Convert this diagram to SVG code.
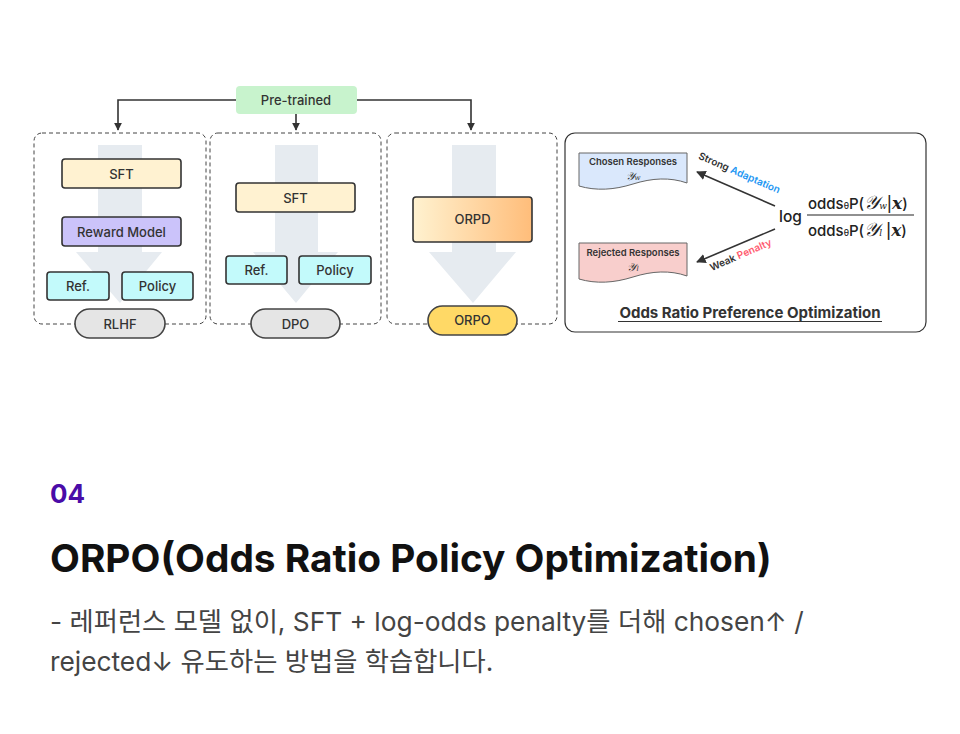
<svg xmlns="http://www.w3.org/2000/svg" width="960" height="734" viewBox="0 0 960 734">
<defs>
<style>
text{font-family:Inter,"Noto Sans","Noto Sans CJK KR",sans-serif;}
.lbl{font-size:13px;font-weight:500;fill:#333;text-anchor:middle;}
.box{stroke:#333;stroke-width:1.6;}
.dash{fill:none;stroke:#444;stroke-width:1;stroke-dasharray:4 3;}
.big{fill:#e6ebf0;}
.con{fill:none;stroke:#333;stroke-width:1.6;}
.pill{stroke:#444;stroke-width:1.6;}
.math{font-family:"DejaVu Serif","Liberation Serif",serif;}
</style>
<marker id="ah" viewBox="0 0 10 10" refX="9" refY="5" markerWidth="5" markerHeight="5" orient="auto">
<path d="M0,0 L10,5 L0,10 Z" fill="#333"/>
</marker>
<marker id="ah2" viewBox="0 0 10 10" refX="9" refY="5" markerWidth="6" markerHeight="6" orient="auto">
<path d="M0,0 L10,5 L0,10 Z" fill="#333"/>
</marker>
<linearGradient id="og" x1="0" y1="0" x2="1" y2="0">
<stop offset="0" stop-color="#fff2d0"/>
<stop offset="1" stop-color="#ffbd7a"/>
</linearGradient>
</defs>
<rect width="960" height="734" fill="#fff"/>

<g id="containers">
<rect class="dash" x="34" y="133" width="172" height="191" rx="8"/>
<rect class="dash" x="210" y="133" width="171" height="191" rx="8"/>
<rect class="dash" x="387" y="133" width="170" height="191" rx="8"/>
<path class="big" d="M98,145 H142 V252 H162 L120,303 L76,252 H98 Z"/>
<path class="big" d="M275,145 H318 V252 H338 L296,303 L253,252 H275 Z"/>
<path class="big" d="M452,145 H496 V252 H516 L473,303 L429,252 H452 Z"/>
</g>

<g id="panel">
<rect x="565" y="133" width="361" height="199" rx="10" fill="#fff" stroke="#333" stroke-width="1.2"/>
</g>

<g id="connectors">
<path class="con" d="M236,100 H118 V130" marker-end="url(#ah)"/>
<path class="con" d="M296,114 V130" marker-end="url(#ah)"/>
<path class="con" d="M357,100 H471 V130" marker-end="url(#ah)"/>
<path class="con" d="M775,206 L697,172" marker-end="url(#ah2)"/>
<path class="con" d="M775,229 L697,262" marker-end="url(#ah2)"/>
</g>

<g id="pretrained">
<rect x="236" y="86" width="121" height="28" rx="4" fill="#c8f3cd"/>
<text class="lbl" x="296" y="104.5">Pre-trained</text>
</g>

<g id="rlhf-sft"><rect class="box" x="62" y="159" width="119" height="29" rx="3" fill="#fff2d1"/><text class="lbl" x="121.5" y="178.5">SFT</text></g>
<g id="rlhf-rm"><rect class="box" x="62" y="217" width="119" height="29" rx="3" fill="#cbc3fa"/><text class="lbl" x="121.5" y="236.5">Reward Model</text></g>
<g id="rlhf-ref"><rect class="box" x="47" y="272" width="62" height="28" rx="3" fill="#c3fafb"/><text class="lbl" x="78" y="290.5">Ref.</text></g>
<g id="rlhf-policy"><rect class="box" x="122" y="272" width="71" height="28" rx="3" fill="#c3fafb"/><text class="lbl" x="157.5" y="290.5">Policy</text></g>
<g id="rlhf"><rect class="pill" x="75" y="309" width="90" height="29" rx="14.5" fill="#e5e5e5"/><text class="lbl" x="120" y="328.5">RLHF</text></g>

<g id="dpo-sft"><rect class="box" x="236" y="183" width="119" height="29" rx="3" fill="#fff2d1"/><text class="lbl" x="295.5" y="202.5">SFT</text></g>
<g id="dpo-ref"><rect class="box" x="226" y="256" width="61" height="28" rx="3" fill="#c3fafb"/><text class="lbl" x="256.5" y="274.5">Ref.</text></g>
<g id="dpo-policy"><rect class="box" x="299" y="256" width="72" height="28" rx="3" fill="#c3fafb"/><text class="lbl" x="335" y="274.5">Policy</text></g>
<g id="dpo"><rect class="pill" x="251" y="309" width="89" height="29" rx="14.5" fill="#e5e5e5"/><text class="lbl" x="295.5" y="328.5">DPO</text></g>

<g id="orpd"><rect class="box" x="413" y="197" width="119" height="45" rx="3" fill="url(#og)"/><text class="lbl" x="472.5" y="224">ORPD</text></g>
<g id="orpo"><rect class="pill" x="428" y="306" width="89" height="29" rx="14.5" fill="#ffd966"/><text class="lbl" x="472.5" y="325">ORPO</text></g>

<g id="chosen">
<path d="M579,153 H687 V183 C670,177 652,178 633,184 C614,190 596,191 579,186 Z" fill="#dae8fc" stroke="#666" stroke-width="1"/>
<text x="633" y="165" font-size="9.5" font-weight="600" fill="#333" text-anchor="middle">Chosen Responses</text>
<text class="math" x="633" y="180" font-size="11" font-style="italic" fill="#333" text-anchor="middle">𝒴<tspan font-size="7">w</tspan></text>
</g>
<g id="rejected">
<path d="M579,243 H687 V276 C670,270 652,271 633,277 C614,283 596,284 579,279 Z" fill="#f8cecc" stroke="#666" stroke-width="1"/>
<text x="633" y="256" font-size="9.5" font-weight="600" fill="#333" text-anchor="middle">Rejected Responses</text>
<text class="math" x="633" y="271" font-size="11" font-style="italic" fill="#333" text-anchor="middle">𝒴<tspan font-size="7">l</tspan></text>
</g>

<g id="labels">
<text transform="translate(738,176) rotate(23.5)" font-size="10" font-weight="600" fill="#333" text-anchor="middle">Strong <tspan fill="#2196f3">Adaptation</tspan></text>
<text transform="translate(742,258) rotate(-23.5)" font-size="10" font-weight="600" fill="#333" text-anchor="middle">Weak <tspan fill="#ff5a6e">Penalty</tspan></text>
</g>

<g id="formula">
<text x="779" y="222" font-size="15.5" font-weight="500" fill="#222">log</text>
<text x="808" y="209" font-size="15" font-weight="500" fill="#222">odds<tspan font-size="8.5">θ</tspan>P(<tspan class="math" font-style="italic" font-size="19">𝒴</tspan><tspan class="math" font-style="italic" font-size="9">w</tspan>|<tspan class="math" font-style="italic" font-weight="700" font-size="17">x</tspan>)</text>
<line x1="807" y1="215" x2="914" y2="215" stroke="#222" stroke-width="1.2"/>
<text x="808" y="236" font-size="15" font-weight="500" fill="#222">odds<tspan font-size="8.5">θ</tspan>P(<tspan class="math" font-style="italic" font-size="19">𝒴</tspan><tspan class="math" font-style="italic" font-size="9">l</tspan> |<tspan class="math" font-style="italic" font-weight="700" font-size="17">x</tspan>)</text>
</g>

<g id="panel-title">
<text x="750" y="318" font-size="15" font-weight="700" fill="#333" text-anchor="middle">Odds Ratio Preference Optimization</text>
<line x1="618" y1="321.5" x2="882" y2="321.5" stroke="#333" stroke-width="1.2"/>
</g>

<g id="caption">
<text x="50" y="503" font-size="26" font-weight="700" fill="#4a0ca8">04</text>
<text x="50" y="572" font-size="38.8" font-weight="700" fill="#111">ORPO(Odds Ratio Policy Optimization)</text>
<text x="50" y="631" font-size="26.3" fill="#444">- 레퍼런스 모델 없이, SFT + log-odds penalty를 더해 chosen↑ /</text>
<text x="50" y="671" font-size="26.3" fill="#444">rejected↓ 유도하는 방법을 학습합니다.</text>
</g>
</svg>
